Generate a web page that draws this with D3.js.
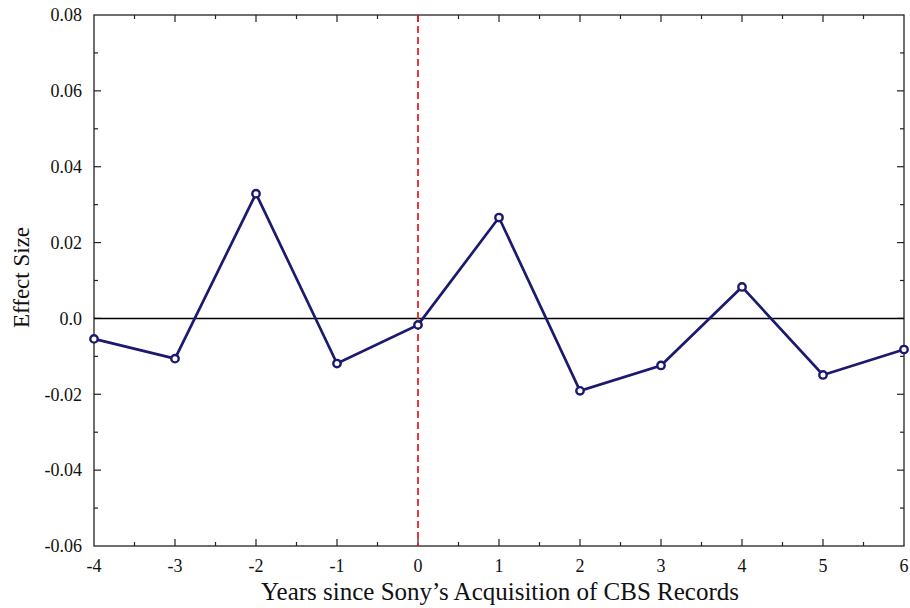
<!DOCTYPE html>
<html>
<head>
<meta charset="utf-8">
<script src="https://cdn.jsdelivr.net/npm/d3@7"></script>
<style>
  html, body { margin: 0; padding: 0; background: #fff; }
</style>
</head>
<body>
<svg id="chart" width="910" height="608"></svg>
<script>
// Event-study estimates by year relative to the acquisition
const years = [-4, -3, -2, -1, 0, 1, 2, 3, 4, 5, 6];
const effects = [-0.0054, -0.0106, 0.0329, -0.0119, -0.0017, 0.0266, -0.0191, -0.0124, 0.0083, -0.0149, -0.0082];
const yTicks = [-0.06, -0.04, -0.02, 0.0, 0.02, 0.04, 0.06, 0.08];
const xTicks = [-4, -3, -2, -1, 0, 1, 2, 3, 4, 5, 6];
const eventYear = 0;

const W = 910, H = 608;
const margin = { left: 94, right: 6, top: 15, bottom: 62 };
const serif = "'Liberation Serif', 'DejaVu Serif', serif";
const svg = d3.select("#chart");

const x = d3.scaleLinear().domain([-4, 6]).range([margin.left, W - margin.right]);
const y = d3.scaleLinear().domain([-0.06, 0.08]).range([H - margin.bottom, margin.top]);

const x0 = x.range()[0], x1 = x.range()[1];
const y0 = y.range()[0], y1 = y.range()[1];

// Minor tick positions (half steps)
const xMinor = d3.range(-3.5, 6, 1);
const yMinor = d3.range(-0.05, 0.08, 0.02);

const tickColor = "#222";
const g = svg.append("g");

// Ticks point inward on all four sides
function xTicksAt(vals, len) {
  vals.forEach(v => {
    g.append("line").attr("x1", x(v)).attr("x2", x(v)).attr("y1", y0).attr("y2", y0 - len)
      .attr("stroke", tickColor).attr("stroke-width", 1.2);
    g.append("line").attr("x1", x(v)).attr("x2", x(v)).attr("y1", y1).attr("y2", y1 + len)
      .attr("stroke", tickColor).attr("stroke-width", 1.2);
  });
}
function yTicksAt(vals, len) {
  vals.forEach(v => {
    g.append("line").attr("x1", x0).attr("x2", x0 + len).attr("y1", y(v)).attr("y2", y(v))
      .attr("stroke", tickColor).attr("stroke-width", 1.2);
    g.append("line").attr("x1", x1).attr("x2", x1 - len).attr("y1", y(v)).attr("y2", y(v))
      .attr("stroke", tickColor).attr("stroke-width", 1.2);
  });
}
xTicksAt(xTicks.slice(1, -1), 7);
xTicksAt(xMinor, 4);
yTicksAt(yTicks.slice(1, -1), 7);
yTicksAt(yMinor, 4);

// Frame
g.append("rect").attr("x", x0).attr("y", y1).attr("width", x1 - x0).attr("height", y0 - y1)
  .attr("fill", "none").attr("stroke", tickColor).attr("stroke-width", 1.3);

// Tick labels
const fmtY = v => v === 0 ? "0.0" : d3.format(".2f")(v).replace("\u2212", "-");
yTicks.forEach(v => {
  g.append("text").attr("x", x0 - 12).attr("y", y(v)).attr("dy", "0.35em")
    .attr("text-anchor", "end").attr("font-family", serif).attr("font-size", 18)
    .attr("fill", "#111").text(fmtY(v));
});
xTicks.forEach(v => {
  g.append("text").attr("x", x(v)).attr("y", y0 + 26)
    .attr("text-anchor", "middle").attr("font-family", serif).attr("font-size", 18)
    .attr("fill", "#111").text(String(v));
});

// Axis titles
svg.append("text").attr("x", (x0 + x1) / 2 + 1).attr("y", 600)
  .attr("text-anchor", "middle").attr("font-family", serif).attr("font-size", 25)
  .attr("fill", "#111").text("Years since Sony\u2019s Acquisition of CBS Records");
svg.append("text").attr("transform", `translate(29,${(y0 + y1) / 2 - 3}) rotate(-90)`)
  .attr("text-anchor", "middle").attr("font-family", serif).attr("font-size", 23)
  .attr("fill", "#111").text("Effect Size");

// Zero reference line
g.append("line").attr("x1", x0).attr("x2", x1).attr("y1", y(0)).attr("y2", y(0))
  .attr("stroke", "#000").attr("stroke-width", 1.6);

// Event year marker
g.append("line").attr("x1", x(eventYear)).attr("x2", x(eventYear)).attr("y1", y1).attr("y2", y0)
  .attr("stroke", "#e8141c").attr("stroke-width", 1.7).attr("stroke-dasharray", "7,4");

// Series line and markers
const pts = years.map((yr, i) => [yr, effects[i]]);
g.append("path").datum(pts)
  .attr("d", d3.line().x(d => x(d[0])).y(d => y(d[1])))
  .attr("fill", "none").attr("stroke", "#1b1a6e").attr("stroke-width", 2.7)
  .attr("stroke-linejoin", "miter");
g.selectAll("circle.pt").data(pts).join("circle").attr("class", "pt")
  .attr("cx", d => x(d[0])).attr("cy", d => y(d[1])).attr("r", 3.7)
  .attr("fill", "#fff").attr("stroke", "#1b1a6e").attr("stroke-width", 2.4);
</script>
</body>
</html>
